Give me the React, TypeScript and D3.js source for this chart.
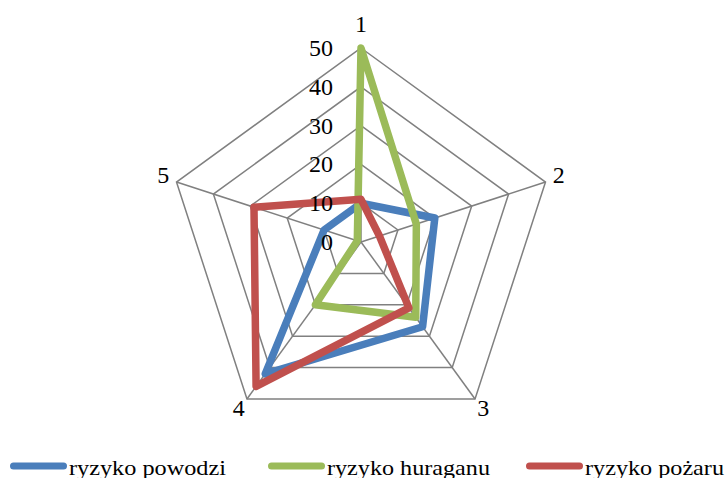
import { useEffect, useRef } from 'react';
import * as d3 from 'd3';

const categories = ['1', '2', '3', '4', '5'];
const tickValues = [0, 10, 20, 30, 40, 50];
const seriesNames = ['ryzyko powodzi', 'ryzyko huraganu', 'ryzyko pożaru'];
const seriesColors = ['#4a7ebb', '#9bbb59', '#c0504d'];
const powodzi = [10, 20, 27, 42, 10];
const huraganu = [50, 15, 24, 20, 1];
const pozaru = [11, 5, 21, 46, 29];

const WIDTH = 727;
const HEIGHT = 478;
const FONT = "'Liberation Serif', 'Times New Roman', serif";

export default function App() {
	const svgRef = useRef<SVGSVGElement>(null);

	useEffect(() => {
		if (!svgRef.current) return;
		const root = d3.select(svgRef.current);
		root.selectAll('*').remove();

		const cx = 361;
		const cy = 242;
		const radius = 194;

		const rScale = d3.scaleLinear().domain([0, 50]).range([0, radius]);
		const angle = d3
			.scalePoint<string>()
			.domain(categories)
			.range([0, (2 * Math.PI * (categories.length - 1)) / categories.length]);

		const svg = root.append('g').attr('transform', `translate(${cx},${cy})`);

		// grid rings
		const ringLine = d3
			.lineRadial<string>()
			.angle((d) => angle(d) as number)
			.curve(d3.curveLinearClosed);
		tickValues
			.filter((t) => t > 0)
			.forEach((t) => {
				svg
					.append('path')
					.attr('d', ringLine.radius(rScale(t))(categories))
					.attr('fill', 'none')
					.attr('stroke', '#808080')
					.attr('stroke-width', 1.5);
			});

		// spokes
		categories.forEach((c) => {
			const a = angle(c) as number;
			svg
				.append('line')
				.attr('x1', 0)
				.attr('y1', 0)
				.attr('x2', rScale(50) * Math.sin(a))
				.attr('y2', -rScale(50) * Math.cos(a))
				.attr('stroke', '#808080')
				.attr('stroke-width', 1.5);
		});

		// series
		const seriesData = [powodzi, huraganu, pozaru];
		const seriesLine = d3
			.lineRadial<number>()
			.angle((_, i) => angle(categories[i]) as number)
			.radius((d) => rScale(d))
			.curve(d3.curveLinearClosed);
		seriesData.forEach((values, i) => {
			svg
				.append('path')
				.attr('d', seriesLine(values))
				.attr('fill', 'none')
				.attr('stroke', seriesColors[i])
				.attr('stroke-width', 7.5)
				.attr('stroke-linejoin', 'round');
		});

		// tick labels
		svg
			.selectAll('.tick-label')
			.data(tickValues)
			.enter()
			.append('text')
			.attr('x', -28)
			.attr('y', (d) => -rScale(d))
			.attr('text-anchor', 'end')
			.attr('dominant-baseline', 'central')
			.attr('font-family', FONT)
			.attr('font-size', 24)
			.attr('fill', '#000')
			.text((d) => d);

		// category labels
		categories.forEach((c) => {
			const a = angle(c) as number;
			const dx = Math.sin(a);
			const dy = -Math.cos(a);
			const x = rScale(50) * dx + dx * 14;
			const y = rScale(50) * dy + (dy < 0 ? dy * 24 : dy * 11);
			svg
				.append('text')
				.attr('x', x)
				.attr('y', y)
				.attr('text-anchor', 'middle')
				.attr('dominant-baseline', 'central')
				.attr('font-family', FONT)
				.attr('font-size', 24)
				.attr('fill', '#000')
				.text(c);
		});

		// legend
		const legendWidths = [157, 163, 139];
		const legend = root.append('g').attr('transform', 'translate(10,466)');
		seriesNames.forEach((name, i) => {
			const g = legend.append('g').attr('transform', `translate(${i * 258},0)`);
			g.append('line')
				.attr('x1', 3.5)
				.attr('x2', 53.5)
				.attr('y1', 0)
				.attr('y2', 0)
				.attr('stroke', seriesColors[i])
				.attr('stroke-width', 7)
				.attr('stroke-linecap', 'round');
			g.append('text')
				.attr('x', 59)
				.attr('y', 8.5)
				.attr('textLength', legendWidths[i])
				.attr('lengthAdjust', 'spacingAndGlyphs')
				.attr('font-family', FONT)
				.attr('font-size', 22)
				.attr('fill', '#000')
				.text(name);
		});
	}, []);

	return (
		<svg
			ref={svgRef}
			width={WIDTH}
			height={HEIGHT}
			style={{ position: 'absolute', left: 0, top: 0, background: '#fff' }}
		></svg>
	);
}
